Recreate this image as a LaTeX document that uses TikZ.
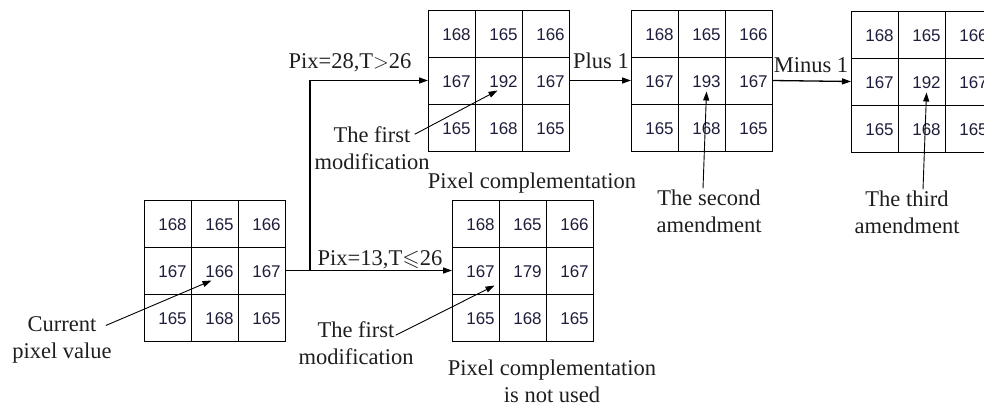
\documentclass[tikz,border=0pt]{standalone}
\usepackage{amssymb}
\usepackage{fontspec}
\setmainfont{Liberation Serif}
\newfontfamily\numfont{Liberation Sans}
\usetikzlibrary{arrows.meta,calc}
\definecolor{numcol}{RGB}{30,30,60}
\definecolor{txtcol}{RGB}{30,30,30}
\tikzset{
  gridbox/.style={draw, line width=1pt, minimum size=141pt, inner sep=0pt, outer sep=0pt},
  gridline/.style={line width=1pt},
  num/.style={font=\numfont\fontsize{17}{20}\selectfont, text=numcol, inner sep=0pt},
  lab/.style={font=\fontsize{22.5}{27}\selectfont, text=txtcol, inner sep=0pt, align=center},
  flow/.style={line width=1.3pt, -{Triangle[length=9pt,width=6pt]}},
  pointer/.style={line width=0.9pt, -{Triangle[length=9pt,width=6pt]}},
}
\newcommand\pgrid[4]{%
  \node[gridbox, anchor=north west] (#1) at (#2,#3) {};
  \draw[gridline] ({#2+47},{#3}) -- ({#2+47},{#3+141});
  \draw[gridline] ({#2+94},{#3}) -- ({#2+94},{#3+141});
  \draw[gridline] ({#2},{#3+47}) -- ({#2+141},{#3+47});
  \draw[gridline] ({#2},{#3+94}) -- ({#2+141},{#3+94});
  \node[num] at ({#2+28.5},{#3+24.5}) {168};
  \node[num] at ({#2+75.5},{#3+24.5}) {165};
  \node[num] at ({#2+122.5},{#3+24.5}) {166};
  \node[num] at ({#2+28.5},{#3+71.5}) {167};
  \node[num] (#1c) at ({#2+75.5},{#3+71.5}) {#4};
  \node[num] at ({#2+122.5},{#3+71.5}) {167};
  \node[num] at ({#2+28.5},{#3+118.5}) {165};
  \node[num] at ({#2+75.5},{#3+118.5}) {168};
  \node[num] at ({#2+122.5},{#3+118.5}) {165};
}
\begin{document}
\begin{tikzpicture}[x=1pt,y=-1pt]
\useasboundingbox (0,0) rectangle (984,405);
\pgrid{g1}{144}{200}{166}
\pgrid{g2}{428}{10}{192}
\pgrid{g3}{631}{10}{193}
\pgrid{g4}{851}{11}{192}
\pgrid{g5}{452}{200}{179}

% flow connectors
\coordinate (split) at (310,270.5);
\draw[line width=1.3pt] (g1.east) -- (split);
\draw[flow] (split) |- (g2.west);
\draw[flow] (split) -- (g5.west);
\draw[flow] (g2.east) -- (g3.west);
\draw[flow] (g3.east) -- (g4.west);

% condition labels
\node[lab, anchor=base] (c28) at (350,68) {Pix=28,T$>$26};
\node[lab, anchor=base] (c13) at (380,265) {Pix=13,T$\leqslant$26};
\node[lab, anchor=base] (plus) at (601,68) {Plus 1};
\node[lab, anchor=base] (minus) at (811,72) {Minus 1};

% annotation labels
\node[lab] (cur) at (62,340) {Current\\pixel value};
\node[lab] (fm1) at (372,148) {The first\\modification};
\node[lab, anchor=base] (pc) at (532,188) {Pixel complementation};
\node[lab] (sec) at (709,211) {The second\\amendment};
\node[lab] (thi) at (907,212) {The third\\amendment};
\node[lab] (fm2) at (356,343) {The first\\modification};
\node[lab] (pcn) at (552,381) {Pixel complementation\\is not used};

% pointers
\draw[pointer] ($(cur.north east)+(-6,9)$) -- ($(g1c)+(-8,9)$);
\draw[pointer] ($(fm1.north east)+(-15,8)$) -- ($(g2c)+(-6,9)$);
\draw[pointer] ($(sec.north)+(-6,-1)$) -- ($(g3c)+(0,10)$);
\draw[pointer] ($(thi.north)+(16,-1)$) -- ($(g4c)+(0,10)$);
\draw[pointer] ($(fm2.north east)+(-18,14)$) -- ($(g5c)+(-33,14)$);
\end{tikzpicture}
\end{document}
